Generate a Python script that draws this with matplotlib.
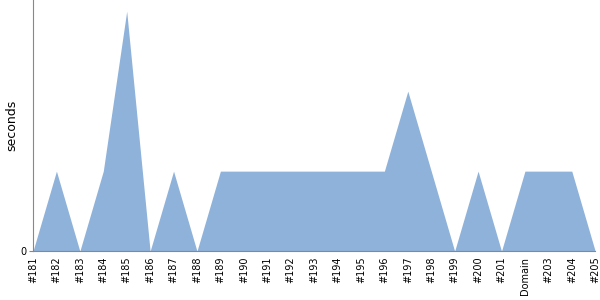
import matplotlib
matplotlib.use("Agg")
import matplotlib.pyplot as plt

labels = ["#181", "#182", "#183", "#184", "#185", "#186", "#187", "#188", "#189", "#190",
          "#191", "#192", "#193", "#194", "#195", "#196", "#197", "#198", "#199", "#200",
          "#201", "Domain", "#203", "#204", "#205"]
seconds = [0, 1, 0, 1, 3, 0, 1, 0, 1, 1,
           1, 1, 1, 1, 1, 1, 2, 1, 0, 1,
           0, 1, 1, 1, 0]

fig = plt.figure(figsize=(6, 3), dpi=100)
ax = fig.add_axes([0.055, 0.163, 0.937, 0.837])
x = list(range(len(labels)))
ax.fill_between(x, seconds, 0, color="#8fb2da", linewidth=0)
ax.set_xlim(0, len(labels) - 1)
ax.set_ylim(0, 3.14)
ax.set_xticks(x)
ax.set_xticklabels(labels, rotation=90, fontsize=7)
ax.set_yticks([0])
ax.set_yticklabels(["0"], fontsize=7)
ax.tick_params(axis="x", length=0, pad=4)
ax.tick_params(axis="y", length=3, color="#888888", pad=2)
ax.set_ylabel("seconds", fontsize=9, labelpad=1)
for s in ["top", "right"]:
    ax.spines[s].set_visible(False)
for s in ["left", "bottom"]:
    ax.spines[s].set_color("#888888")
fig.savefig("out.png", dpi=100)
